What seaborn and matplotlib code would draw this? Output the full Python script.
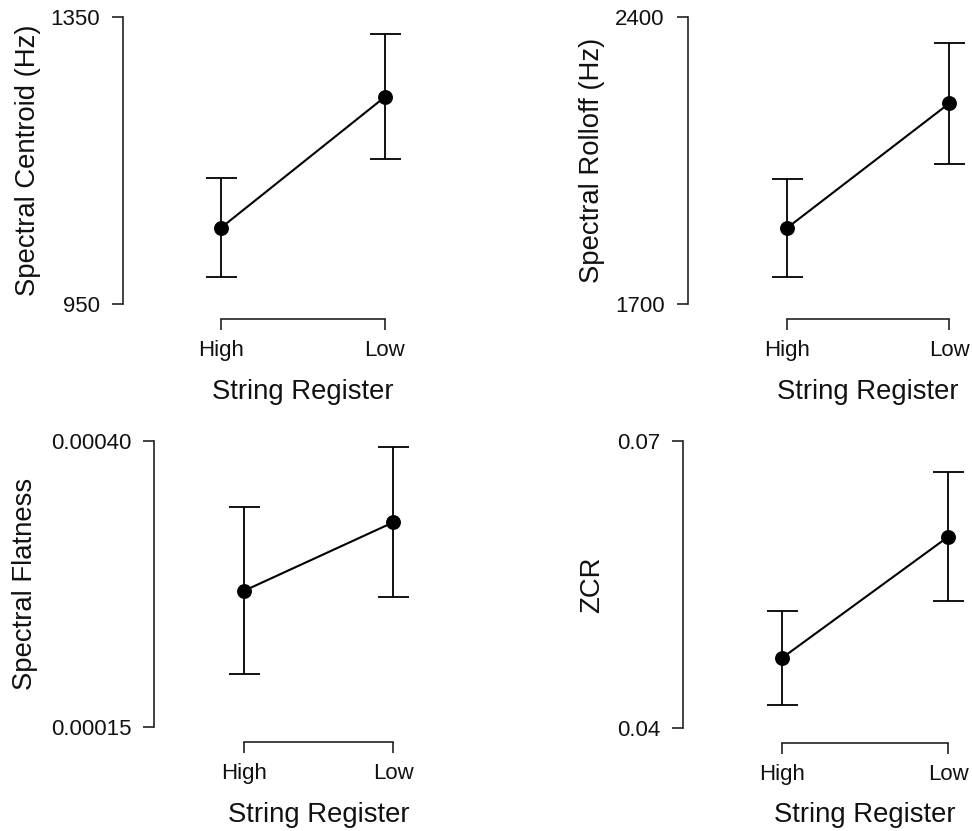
import matplotlib
matplotlib.use("Agg")
import matplotlib.pyplot as plt
import seaborn as sns
import pandas as pd

# ---- data ----
categories = ["High", "Low"]

centroid_mean = [1056, 1239]
centroid_lo = [988, 1152]
centroid_hi = [1126, 1327]

rolloff_mean = [1885, 2190]
rolloff_lo = [1766, 2043]
rolloff_hi = [2005, 2337]

flatness_mean = [0.0002693, 0.000329]
flatness_lo = [0.0001965, 0.0002635]
flatness_hi = [0.0003421, 0.0003948]

zcr_mean = [0.04734, 0.06001]
zcr_lo = [0.0424, 0.05332]
zcr_hi = [0.05228, 0.06673]

ylabels = ["Spectral Centroid (Hz)", "Spectral Rolloff (Hz)", "Spectral Flatness", "ZCR"]
yticks = [[950, 1350], [1700, 2400], [0.00015, 0.00040], [0.04, 0.07]]
yticklabels = [["950", "1350"], ["1700", "2400"], ["0.00015", "0.00040"], ["0.04", "0.07"]]
xlabel = "String Register"

series = [
    (centroid_mean, centroid_lo, centroid_hi),
    (rolloff_mean, rolloff_lo, rolloff_hi),
    (flatness_mean, flatness_lo, flatness_hi),
    (zcr_mean, zcr_lo, zcr_hi),
]

# ---- layout (pixels) ----
W, H = 972, 831
# left spine, top tick, bottom tick, x(High), x(Low), right edge, ylabel center x, xlabel center y
layout = [
    (123.3, 17.3, 304.0, 220.7, 385.0, 460, 28, 392),
    (687.7, 17.3, 304.0, 786.7, 949.3, 970, 592, 392),
    (154.3, 441.0, 727.3, 244.3, 393.3, 460, 25, 815),
    (683.3, 441.0, 728.3, 782.0, 948.3, 970, 592, 815),
]

sns.set_theme(style="ticks")
plt.rcParams["font.family"] = ["Liberation Sans", "DejaVu Sans"]

fig = plt.figure(figsize=(W / 100, H / 100), dpi=100)
px2pt = 72 / 100

for (mean, lo, hi), (L, T, B, xh, xl, R, ylx, xly), ylab, yt, ytl in zip(
        series, layout, ylabels, yticks, yticklabels):
    ax = fig.add_axes([L / W, 1 - B / H, (R - L) / W, (B - T) / H])
    df = pd.DataFrame({"Register": categories, "Value": mean})
    sns.pointplot(data=df, x="Register", y="Value", order=categories, errorbar=None,
                  color="black", markers="o", markersize=9.6, linewidth=1.5, ax=ax)
    err_lo = [m - l for m, l in zip(mean, lo)]
    err_hi = [h - m for m, h in zip(mean, hi)]
    ax.errorbar([0, 1], mean, yerr=[err_lo, err_hi], fmt="none", ecolor="black",
                elinewidth=1.3, capsize=15.5 * px2pt, capthick=1.3, clip_on=False, zorder=1)
    scale = xl - xh
    ax.set_xlim(-(xh - L) / scale, 1 + (R - xl) / scale)
    ax.set_ylim(yt[0], yt[1])
    ax.set_yticks(yt)
    ax.set_yticklabels(ytl)
    ax.set_xticks([0, 1])
    ax.set_xticklabels(categories)
    for s in ["top", "right"]:
        ax.spines[s].set_visible(False)
    ax.spines["bottom"].set_position(("outward", 15 * px2pt))
    ax.spines["bottom"].set_bounds(0, 1)
    for s in ["left", "bottom"]:
        ax.spines[s].set_linewidth(1.2)
        ax.spines[s].set_color("#222222")
    ax.tick_params(axis="both", length=11 * px2pt, width=1.2, color="#222222",
                   labelsize=16, labelcolor="#111111")
    ax.tick_params(axis="y", pad=12 * px2pt)
    ax.tick_params(axis="x", pad=10 * px2pt)
    ax.set_xlabel(xlabel, fontsize=19.8, color="#111111")
    ax.set_ylabel(ylab, fontsize=19.8, color="#111111")
    ax.xaxis.label.set_va("center")
    ax.yaxis.label.set_va("center")
    ax.xaxis.set_label_coords(0.5 * (xh + xl - 2 * L) / (R - L), -(xly - B) / (B - T))
    ax.yaxis.set_label_coords((ylx - L) / (R - L), 0.5)
    ax.grid(False)

fig.savefig("out.png", dpi=100, facecolor="white")
